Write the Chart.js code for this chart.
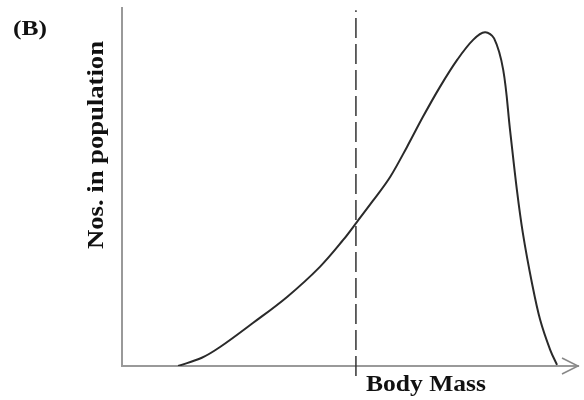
<!DOCTYPE html>
<html>
<head>
<meta charset="utf-8">
<script src="https://cdn.jsdelivr.net/npm/chart.js@4/dist/chart.umd.min.js"></script>
<style>
html,body{margin:0;padding:0;background:#fff;}
#wrap{width:584px;height:400px;position:relative;}
</style>
</head>
<body>
<div id="wrap"><canvas id="c"></canvas></div>
<script>
// Body mass (arbitrary units 0-100) and numbers in population (arbitrary units 0-100)
const bodyMass = [12.3, 17.5, 21.5, 28.7, 36.2, 43.4, 48.5, 51.5, 55.0, 58.8, 62.5, 66.0, 69.7, 73.5, 77.0, 79.6, 81.6, 83.6, 85.1, 86.6, 87.9, 89.9, 91.7, 93.9, 95.4];
const numbers  = [0.0, 2.3, 5.3, 12.0, 19.3, 27.7, 35.2, 40.2, 46.1, 52.8, 61.2, 69.6, 77.9, 85.5, 91.1, 93.2, 91.5, 82.7, 65.9, 49.2, 37.2, 23.2, 12.9, 4.5, 0.3];
const dividerMass = 51.3;
const dividerRange = [-2.8, 99.4];
const xTitle = "Body Mass";
const yTitle = "Nos. in population";
const panelLabel = "(B)";

const curve = bodyMass.map((x, i) => ({x, y: numbers[i]}));
const divider = dividerRange.map(y => ({x: dividerMass, y}));

const fitText = (ctx, text, cx, cy, targetW, rot, size) => {
  ctx.save();
  ctx.font = "bold " + size + "px 'Liberation Serif'";
  const w = ctx.measureText(text).width;
  ctx.translate(cx, cy);
  if (rot) ctx.rotate(-Math.PI / 2);
  ctx.scale(targetW / w, 1);
  ctx.textAlign = "center";
  ctx.textBaseline = "middle";
  ctx.fillStyle = "#111";
  ctx.fillText(text, 0, 0);
  ctx.restore();
};

const decor = {
  id: "decor",
  afterDraw(chart) {
    const ctx = chart.ctx;
    const a = chart.chartArea;
    // arrow head on x axis
    ctx.save();
    ctx.strokeStyle = "#888";
    ctx.lineWidth = 1.5;
    ctx.beginPath();
    ctx.moveTo(a.right - 16, a.bottom - 8);
    ctx.lineTo(a.right, a.bottom);
    ctx.lineTo(a.right - 16, a.bottom + 8);
    ctx.stroke();
    ctx.restore();
    fitText(ctx, xTitle, 426, 385, 120, false, 23);
    fitText(ctx, yTitle, 97, 145, 208, true, 23);
    fitText(ctx, panelLabel, 30, 29, 34, false, 22);
  }
};

new Chart(document.getElementById("c"), {
  type: "line",
  data: {
    datasets: [
      {data: curve, borderColor: "#2a2a2a", borderWidth: 2, pointRadius: 0, tension: 0.35, fill: false},
      {data: divider, borderColor: "#333", borderWidth: 1.5, borderDash: [20, 6], pointRadius: 0, clip: false, fill: false}
    ]
  },
  options: {
    responsive: true,
    maintainAspectRatio: false,
    animation: false,
    layout: {padding: {left: 122, top: 8, right: 6, bottom: 34}},
    plugins: {legend: {display: false}, tooltip: {enabled: false}},
    scales: {
      x: {type: "linear", min: 0, max: 100,
          ticks: {display: false}, grid: {display: false, drawTicks: false},
          border: {display: true, color: "#999", width: 2},
          afterFit: s => { s.height = 0; }},
      y: {type: "linear", min: 0, max: 100,
          ticks: {display: false}, grid: {display: false, drawTicks: false},
          border: {display: true, color: "#999", width: 2},
          afterFit: s => { s.width = 0; }}
    }
  },
  plugins: [decor]
});
</script>
</body>
</html>
